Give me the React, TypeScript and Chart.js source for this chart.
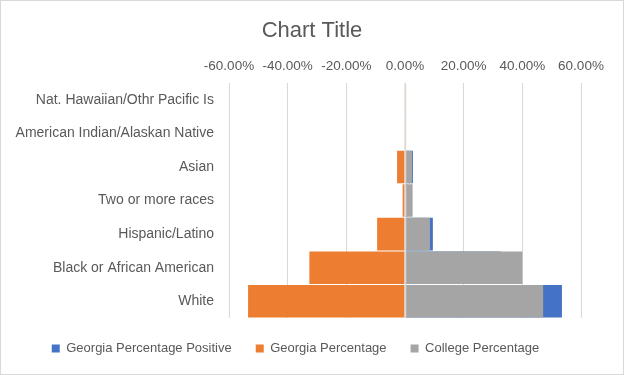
import React, { useEffect, useRef } from "react";
import { Chart, registerables } from "chart.js";

Chart.register(...registerables);

const categories = [
  "Nat. Hawaiian/Othr Pacific Is",
  "American Indian/Alaskan Native",
  "Asian",
  "Two or more races",
  "Hispanic/Latino",
  "Black or African American",
  "White",
];
const georgiaPercentage = [0.1, 0.1, 2.7, 0.8, 9.5, 32.6, 53.5];
const collegePercentage = [0.1, 0.1, 2.4, 2.6, 8.5, 40.0, 47.1];
const xTicks = [-60, -40, -20, 0, 20, 40, 60];
const chartTitle = "Chart Title";

const FONT = "'Liberation Sans', Arial, sans-serif";
const TEXT = "#595959";
const GRID = "#d9d9d9";

export default function App() {
  const ref = useRef<HTMLCanvasElement | null>(null);
  useEffect(() => {
    document.body.style.margin = "0";
    const canvas = ref.current!;
    const overlay = {
      id: "overlay",
      afterDatasetsDraw(chart: any) {
        const { ctx, chartArea, scales } = chart;
        const x0 = Math.round(scales.x.getPixelForValue(0)) + 0.5;
        ctx.save();
        ctx.strokeStyle = GRID;
        ctx.lineWidth = 1.5;
        ctx.beginPath();
        ctx.moveTo(x0, chartArea.top);
        ctx.lineTo(x0, chartArea.bottom);
        ctx.stroke();
        ctx.restore();
      },
      afterDraw(chart: any) {
        const { ctx, width, height } = chart;
        ctx.save();
        ctx.strokeStyle = GRID;
        ctx.lineWidth = 1;
        ctx.strokeRect(0.5, 0.5, width - 1, height - 1);
        ctx.fillStyle = TEXT;
        ctx.font = `22px ${FONT}`;
        ctx.textAlign = "center";
        ctx.textBaseline = "middle";
        ctx.fillText(chartTitle, width / 2, 31);
        ctx.restore();
      },
    };
    const chart = new Chart(canvas, {
      type: "bar",
      data: {
        labels: categories,
        datasets: [
          {
            label: "Georgia Percentage Positive",
            data: georgiaPercentage,
            backgroundColor: "#4472C4",
            order: 2,
          },
          {
            label: "Georgia Percentage",
            data: georgiaPercentage.map((v) => -v),
            backgroundColor: "#ED7D31",
            order: 1,
          },
          {
            label: "College Percentage",
            data: collegePercentage,
            backgroundColor: "#A5A5A5",
            order: 0,
          },
        ],
      },
      plugins: [overlay],
      options: {
        indexAxis: "y",
        animation: false,
        responsive: false,
        maintainAspectRatio: false,
        layout: { padding: { left: 10, right: 43, top: 0, bottom: 10 } },
        datasets: {
          bar: { categoryPercentage: 1, barPercentage: 0.97 },
        },
        scales: {
          x: {
            position: "top",
            min: -60,
            max: 60,
            afterBuildTicks(scale: any) {
              scale.ticks = xTicks.map((v) => ({ value: v }));
            },
            afterFit(scale: any) {
              scale.height = 40;
            },
            grid: { color: GRID, drawTicks: false },
            border: { display: false },
            ticks: {
              padding: 9,
              color: TEXT,
              font: { family: FONT, size: 13.5 },
              callback: (v: any) => Number(v).toFixed(2) + "%",
            },
          },
          y: {
            stacked: true,
            afterFit(scale: any) {
              scale.width = 219;
            },
            grid: { display: false, drawTicks: false },
            border: { display: false },
            ticks: {
              padding: 15,
              color: TEXT,
              font: { family: FONT, size: 14 },
            },
          },
        },
        plugins: {
          title: {
            display: true,
            text: chartTitle,
            color: "rgba(0,0,0,0)",
            font: { family: FONT, size: 21, weight: "normal" },
            padding: { top: 18, bottom: 0 },
          },
          legend: {
            position: "bottom",
            labels: {
              boxWidth: 8,
              boxHeight: 8,
              padding: 24,
              color: TEXT,
              font: { family: FONT, size: 13 },
              sort: (a: any, b: any) => a.datasetIndex - b.datasetIndex,
            },
          },
          tooltip: { enabled: false },
        },
      },
    });
    return () => chart.destroy();
  }, []);
  return (
    <div style={{ width: 624, height: 375 }}>
      <canvas ref={ref} width={624} height={375} style={{ display: "block" }} />
    </div>
  );
}
